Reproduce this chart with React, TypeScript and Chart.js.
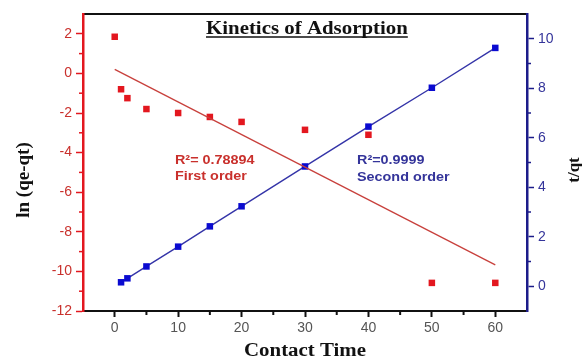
import React, { useEffect, useRef } from "react";
import { Chart, registerables } from "chart.js";

Chart.register(...registerables);

// Pseudo-first-order data: ln(qe - qt) against contact time
const firstOrderTime = [0, 1, 2, 5, 10, 15, 20, 30, 40, 50, 60];
const lnQeQt = [1.85, -0.8, -1.25, -1.8, -2.0, -2.2, -2.45, -2.85, -3.1, -10.58, -10.58];

// Linear fit of the first-order data
const firstOrderFitTime = [0, 60];
const firstOrderFit = [0.2, -9.67];

// Pseudo-second-order data: t/qt against contact time
const secondOrderTime = [1, 2, 5, 10, 15, 20, 30, 40, 50, 60];
const tOverQt = [0.16, 0.32, 0.8, 1.6, 2.42, 3.23, 4.84, 6.45, 8.02, 9.63];

// Axis ticks
const xTicks = [0, 10, 20, 30, 40, 50, 60];
const xMinorTicks = [5, 15, 25, 35, 45, 55];
const leftTicks = [-12, -10, -8, -6, -4, -2, 0, 2];
const leftMinorTicks = [-11, -9, -7, -5, -3, -1, 1];
const rightTicks = [0, 2, 4, 6, 8, 10];
const rightMinorTicks = [1, 3, 5, 7, 9];

const RED = "#e3171f";
const RED_TEXT = "#c9302c";
const BLUE = "#0a0ad0";
const NAVY = "#1c1c8a";
const NAVY_TEXT = "#34349a";

const SANS = "'Liberation Sans', Arial, sans-serif";
const SERIF = "'Liberation Serif', 'Times New Roman', serif";

function drawText(
  ctx: CanvasRenderingContext2D,
  text: string,
  x: number,
  y: number,
  font: string,
  color: string,
  opts: { align?: CanvasTextAlign; stretch?: number; rotate?: number; underline?: boolean } = {}
) {
  const stretch = opts.stretch ?? 1;
  ctx.save();
  ctx.translate(x, y);
  if (opts.rotate) ctx.rotate(opts.rotate);
  ctx.scale(stretch, 1);
  ctx.font = font;
  ctx.fillStyle = color;
  ctx.textAlign = opts.align ?? "left";
  ctx.textBaseline = "alphabetic";
  ctx.fillText(text, 0, 0);
  if (opts.underline) {
    const w = ctx.measureText(text).width;
    const x0 = opts.align === "center" ? -w / 2 : 0;
    ctx.strokeStyle = color;
    ctx.lineWidth = 1.3;
    ctx.beginPath();
    ctx.moveTo(x0, 3);
    ctx.lineTo(x0 + w, 3);
    ctx.stroke();
  }
  ctx.restore();
}

const decorations = {
  id: "decorations",
  afterDraw(chart: any) {
    const ctx: CanvasRenderingContext2D = chart.ctx;
    const { x, y, y2 } = chart.scales;
    const area = chart.chartArea;
    ctx.save();

    // minor ticks
    const seg = (x0: number, y0: number, x1: number, y1: number, color: string, w: number) => {
      ctx.strokeStyle = color;
      ctx.lineWidth = w;
      ctx.beginPath();
      ctx.moveTo(x0, y0);
      ctx.lineTo(x1, y1);
      ctx.stroke();
    };
    xMinorTicks.forEach((v) => {
      const px = x.getPixelForValue(v);
      seg(px, area.bottom, px, area.bottom + 4, "#111", 2);
    });
    leftMinorTicks.forEach((v) => {
      const py = y.getPixelForValue(v);
      seg(area.left - 4, py, area.left, py, RED, 1.5);
    });
    rightMinorTicks.forEach((v) => {
      const py = y2.getPixelForValue(v);
      seg(area.right, py, area.right + 4, py, NAVY, 1.5);
    });

    // chart title
    drawText(ctx, "Kinetics of Adsorption", x.getPixelForValue(30.3), 34, `bold 18px ${SERIF}`, "#111", {
      align: "center",
      stretch: 1.16,
      underline: true,
    });

    // axis titles
    drawText(ctx, "Contact Time", x.getPixelForValue(30), 356, `bold 18px ${SERIF}`, "#111", {
      align: "center",
      stretch: 1.16,
    });
    drawText(ctx, "ln (qe-qt)", 29, 180, `bold 19px ${SERIF}`, "#111", {
      align: "center",
      rotate: -Math.PI / 2,
    });
    drawText(ctx, "t/qt", 579, 170, `bold 17px ${SERIF}`, "#111", {
      align: "center",
      rotate: -Math.PI / 2,
    });

    // fit statistics
    const redX = x.getPixelForValue(9.5);
    drawText(ctx, "R²= 0.78894", redX, y.getPixelForValue(-4.58), `bold 12.5px ${SANS}`, RED_TEXT, { stretch: 1.15 });
    drawText(ctx, "First order", redX, y.getPixelForValue(-5.4), `bold 12.5px ${SANS}`, RED_TEXT, { stretch: 1.15 });
    const blueX = x.getPixelForValue(38.2);
    drawText(ctx, "R²=0.9999", blueX, y.getPixelForValue(-4.58), `bold 12.5px ${SANS}`, NAVY_TEXT, { stretch: 1.15 });
    drawText(ctx, "Second order", blueX, y.getPixelForValue(-5.45), `bold 12.5px ${SANS}`, NAVY_TEXT, { stretch: 1.15 });

    ctx.restore();
  },
};

export default function App() {
  const canvasRef = useRef<HTMLCanvasElement | null>(null);

  useEffect(() => {
    if (!canvasRef.current) return;
    const setTicks = (values: number[]) => (scale: any) => {
      scale.ticks = values.map((v) => ({ value: v }));
    };

    const chart = new Chart(canvasRef.current, {
      type: "scatter",
      data: {
        datasets: [
          {
            label: "First order fit",
            data: firstOrderFitTime.map((t, i) => ({ x: t, y: firstOrderFit[i] })),
            yAxisID: "y",
            showLine: true,
            borderColor: "#c8403c",
            borderWidth: 1.3,
            pointRadius: 0,
          },
          {
            label: "Second order",
            data: secondOrderTime.map((t, i) => ({ x: t, y: tOverQt[i] })),
            yAxisID: "y2",
            showLine: true,
            borderColor: "#3434a8",
            borderWidth: 1.4,
            pointStyle: "rect",
            pointRadius: 4.6,
            pointBackgroundColor: BLUE,
            pointBorderColor: BLUE,
            pointBorderWidth: 0,
          },
          {
            label: "First order",
            data: firstOrderTime.map((t, i) => ({ x: t, y: lnQeQt[i] })),
            yAxisID: "y",
            showLine: false,
            pointStyle: "rect",
            pointRadius: 4.6,
            pointBackgroundColor: RED,
            pointBorderColor: RED,
            pointBorderWidth: 0,
          },
        ],
      },
      options: {
        responsive: false,
        animation: false,
        layout: { padding: 0 },
        plugins: {
          legend: { display: false },
          tooltip: { enabled: false },
        },
        scales: {
          x: {
            type: "linear",
            position: "bottom",
            min: -5,
            max: 65,
            afterBuildTicks: setTicks(xTicks),
            afterFit: (s: any) => {
              s.height = 47;
            },
            border: { color: "#111", width: 2 },
            grid: { drawOnChartArea: false, color: "#111", tickLength: 6, tickWidth: 2 },
            ticks: { color: "#555", font: { family: SANS, size: 14 }, padding: 3, maxRotation: 0 },
          },
          xTop: {
            type: "linear",
            position: "top",
            min: -5,
            max: 65,
            afterFit: (s: any) => {
              s.height = 14;
            },
            border: { color: "#111", width: 2 },
            grid: { drawOnChartArea: false, drawTicks: false },
            ticks: { display: false },
          },
          y: {
            type: "linear",
            position: "left",
            min: -12,
            max: 3,
            afterBuildTicks: setTicks(leftTicks),
            afterFit: (s: any) => {
              s.width = 83;
            },
            border: { color: RED, width: 2.5 },
            grid: { drawOnChartArea: false, color: RED, tickLength: 7, tickWidth: 1.5 },
            ticks: { color: RED_TEXT, font: { family: SANS, size: 14 }, padding: 4 },
          },
          y2: {
            type: "linear",
            position: "right",
            min: -1,
            max: 11,
            afterBuildTicks: setTicks(rightTicks),
            afterFit: (s: any) => {
              s.width = 55;
            },
            border: { color: NAVY, width: 2.5 },
            grid: { drawOnChartArea: false, color: NAVY, tickLength: 7, tickWidth: 1.5 },
            ticks: { color: NAVY_TEXT, font: { family: SANS, size: 14 }, padding: 4 },
          },
        },
      },
      plugins: [decorations],
    } as any);

    return () => chart.destroy();
  }, []);

  return (
    <div style={{ position: "absolute", left: 0, top: 0, width: 582, height: 358, background: "#fff" }}>
      <canvas ref={canvasRef} width={582} height={358} style={{ display: "block" }} />
    </div>
  );
}
